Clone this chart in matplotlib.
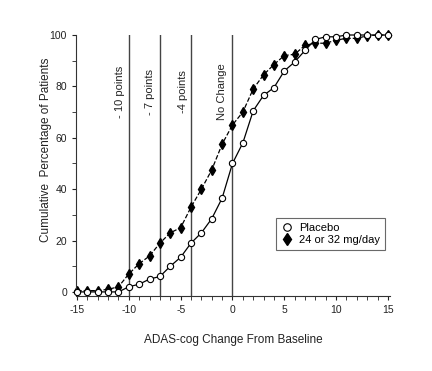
"""
Courbes cumulatives ADAS-cog : placebo contre 24 ou 32 mg/jour
"""

import matplotlib
matplotlib.use('Agg')
import matplotlib.pyplot as plt
import numpy as np

plt.rcParams['font.family'] = ['Liberation Sans', 'DejaVu Sans']
plt.rcParams['axes.unicode_minus'] = False

# Données
change = list(range(-15, 16))
placebo = [0, 0, 0, 0, 0, 2, 3, 5, 6, 10, 13.5, 19, 23, 28.5, 36.5, 50,
           58, 70.5, 76.5, 79.5, 86, 89.5, 94, 98.3, 99.3, 99.3, 100, 100, 100, 100, 100]
drug = [0.5, 0.5, 0.5, 1, 2, 7, 11, 14, 19, 23, 25, 33, 40, 47.5, 57.5, 65,
        70, 79, 84.5, 88.5, 92, 92.5, 96, 96.8, 96.8, 98, 98.7, 98.7, 99.7, 100, 100]
cutoffs = [-10, -7, -4, 0]
cutoff_labels = ['- 10 points', '- 7 points', '-4 points', 'No Change']
label_x = [-10.9, -8.0, -4.8, -1.0]

fig = plt.figure(figsize=(4.32, 3.71), dpi=100)
ax = fig.add_axes([76 / 432, 1 - 295.5 / 371, (390 - 76) / 432, (295.5 - 35) / 371])

for x in cutoffs:
    ax.axvline(x, color='#444444', lw=1.0, zorder=1)
for x, txt in zip(label_x, cutoff_labels):
    ax.text(x, 78, txt, rotation=90, ha='center', va='center', fontsize=8, color='#222222')

ax.plot(change, placebo, '-', color='black', lw=0.9, marker='o', ms=4.5,
        mfc='white', mec='black', mew=0.8, label='Placebo', zorder=3, clip_on=False)
ax.plot(change, drug, '--', color='black', lw=0.9, marker='d', ms=5.5,
        mfc='black', mec='black', label='24 or 32 mg/day', zorder=2, clip_on=False)

ax.set_xlim(-15.1, 15.2)
ax.set_ylim(-1.4, 100)
ax.set_xticks(np.arange(-15, 16, 5))
ax.set_xticks(np.arange(-15, 16, 1), minor=True)
ax.set_yticks(np.arange(0, 101, 20))
ax.set_yticks(np.arange(10, 100, 20), minor=True)
ax.tick_params(which='both', direction='out', labelsize=7.5, colors='#222222')
ax.tick_params(which='major', length=3)
ax.tick_params(which='minor', length=3)

for side in ['top', 'right']:
    ax.spines[side].set_visible(False)
for side in ['left', 'bottom']:
    ax.spines[side].set_color('#333333')
ax.spines['left'].set_bounds(0, 100)

ax.set_xlabel('ADAS-cog Change From Baseline', fontsize=8.5, color='#222222', labelpad=14)
ax.set_ylabel('Cumulative  Percentage of Patients', fontsize=8.5, color='#222222')
ax.yaxis.set_label_coords(-0.075, 0.56)

leg = ax.legend(loc='upper left', bbox_to_anchor=(0.62, 0.32), frameon=True, fancybox=False,
                edgecolor='#444444', fontsize=8, handlelength=1.0, handletextpad=0.6,
                borderpad=0.45, labelspacing=0.2, markerscale=1.2)
for h in leg.legend_handles:
    h.set_linestyle('none')
leg.get_frame().set_linewidth(0.8)

fig.savefig('out.png', dpi=100)
